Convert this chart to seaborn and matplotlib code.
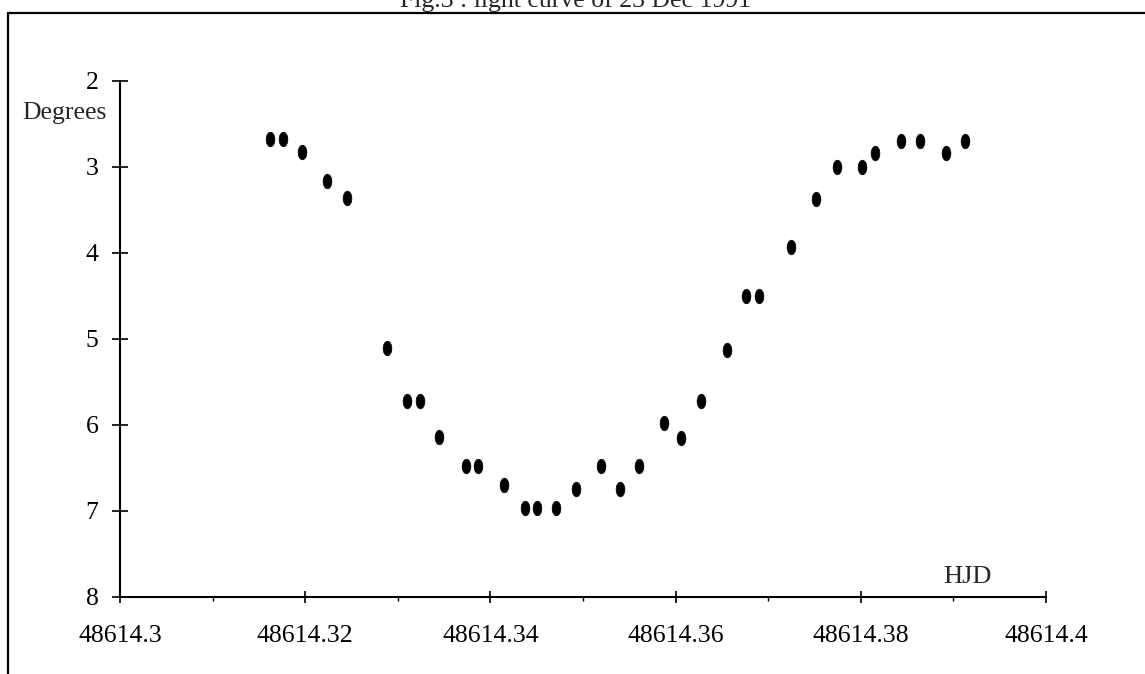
import numpy as np
import pandas as pd
import matplotlib
matplotlib.use("Agg")
import matplotlib.pyplot as plt
import seaborn as sns
from matplotlib.path import Path
from matplotlib.lines import Line2D
from matplotlib.ticker import FixedLocator, FixedFormatter

# ---- data ----
hjd = [48614.3162, 48614.3176, 48614.3197, 48614.3224, 48614.3245,
       48614.3288, 48614.3310, 48614.3324, 48614.3345, 48614.3374,
       48614.3387, 48614.3415, 48614.3437, 48614.3450, 48614.3471,
       48614.3492, 48614.3519, 48614.3540, 48614.3560, 48614.3587,
       48614.3606, 48614.3627, 48614.3656, 48614.3676, 48614.3690,
       48614.3725, 48614.3752, 48614.3774, 48614.3801, 48614.3815,
       48614.3843, 48614.3864, 48614.3892, 48614.3913]
degrees = [2.68, 2.68, 2.83, 3.17, 3.36,
           5.11, 5.73, 5.73, 6.14, 6.48,
           6.48, 6.70, 6.97, 6.97, 6.97,
           6.75, 6.48, 6.75, 6.48, 5.98,
           6.15, 5.73, 5.13, 4.50, 4.50,
           3.93, 3.38, 3.00, 3.00, 2.84,
           2.70, 2.70, 2.84, 2.70]

x_ticks = [48614.30, 48614.32, 48614.34, 48614.36, 48614.38, 48614.40]
x_tick_labels = ["48614.3", "48614.32", "48614.34", "48614.36", "48614.38", "48614.4"]
x_minor_ticks = [48614.31, 48614.33, 48614.35, 48614.37, 48614.39]
y_ticks = [2, 3, 4, 5, 6, 7, 8]
y_tick_labels = ["2", "3", "4", "5", "6", "7", "8"]
title = "Fig.3 : light curve of 23 Dec 1991"
x_label = "HJD"
y_label = "Degrees"

# ---- style ----
sns.set_theme(style="white")
plt.rcParams['font.family'] = ['Liberation Serif', 'DejaVu Serif']

W, H = 1145, 674
fig = plt.figure(figsize=(W / 100, H / 100), dpi=100)
fig.patch.set_facecolor("white")
ax = fig.add_axes([120 / W, 1 - 596.7 / H, 926 / W, (596.7 - 80.7) / H])
ax.set_facecolor("white")

df = pd.DataFrame({"HJD": hjd, "Degrees": degrees})
theta = np.linspace(0, 2 * np.pi, 61)
ellipse = Path(np.column_stack([0.6 * np.cos(theta), np.sin(theta)]), closed=True)

sns.scatterplot(data=df, x="HJD", y="Degrees", marker=ellipse, s=110,
                color="black", edgecolor="black", linewidth=0.5, ax=ax,
                legend=False, clip_on=False)

ax.set_xlim(x_ticks[0], x_ticks[-1])
ax.set_ylim(y_ticks[-1], y_ticks[0])
ax.set_xlabel("")
ax.set_ylabel("")

for s in ["top", "right"]:
    ax.spines[s].set_visible(False)
for s in ["left", "bottom"]:
    ax.spines[s].set_color("black")
    ax.spines[s].set_linewidth(1.5)

ax.xaxis.set_major_locator(FixedLocator(x_ticks))
ax.xaxis.set_major_formatter(FixedFormatter(x_tick_labels))
ax.xaxis.set_minor_locator(FixedLocator(x_minor_ticks))
ax.yaxis.set_major_locator(FixedLocator(y_ticks))
ax.yaxis.set_major_formatter(FixedFormatter(y_tick_labels))

ax.tick_params(axis="x", which="major", direction="inout", length=9, width=1.2,
               labelsize=18.5, colors="black", pad=16, bottom=True)
ax.tick_params(axis="x", which="minor", direction="out", length=3, width=1.0,
               colors="black", bottom=True)
ax.tick_params(axis="y", which="major", direction="inout", length=11, width=1.2,
               labelsize=18.5, colors="black", pad=10, left=True)

fig.text(64 / W, 1 - 119 / H, y_label, ha="center", va="baseline", fontsize=18.5)
fig.text(967 / W, 1 - 583 / H, x_label, ha="center", va="baseline", fontsize=19)
fig.text(576 / W, 1 - 7 / H, title, ha="center", va="baseline", fontsize=18.5)

fig.add_artist(Line2D([8 / W, 1.0], [1 - 13 / H, 1 - 13 / H], color="black",
                      lw=1.6, transform=fig.transFigure))
fig.add_artist(Line2D([8 / W, 8 / W], [0.0, 1 - 13 / H], color="black",
                      lw=1.6, transform=fig.transFigure))

fig.savefig("out.png", dpi=100, facecolor="white")
